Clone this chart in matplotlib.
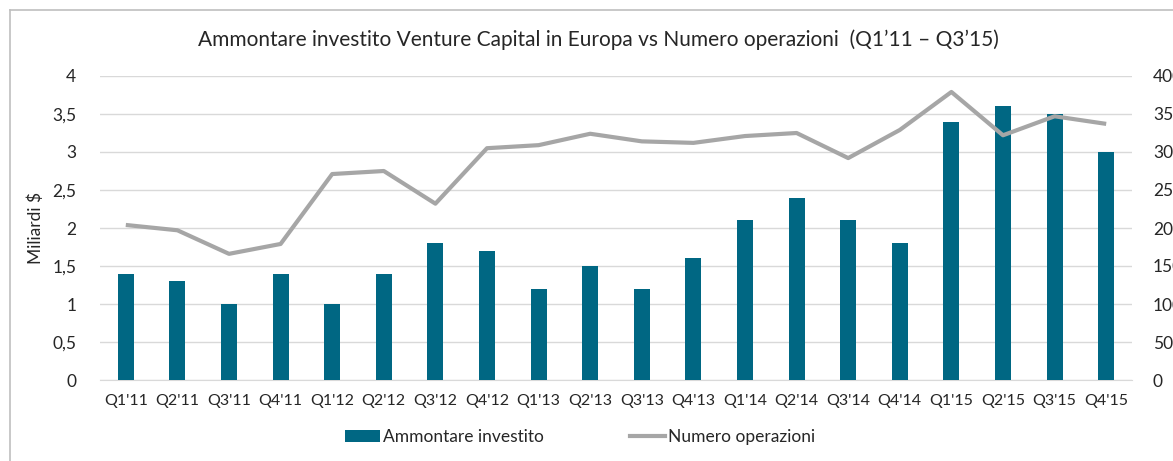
import matplotlib.pyplot as plt
import matplotlib.ticker as mticker
from matplotlib.lines import Line2D
from matplotlib.patches import Patch

plt.rcParams['font.family'] = ['Lato', 'DejaVu Sans']

# Data
quarters = ["Q1'11", "Q2'11", "Q3'11", "Q4'11", "Q1'12", "Q2'12", "Q3'12", "Q4'12",
            "Q1'13", "Q2'13", "Q3'13", "Q4'13", "Q1'14", "Q2'14", "Q3'14", "Q4'14",
            "Q1'15", "Q2'15", "Q3'15", "Q4'15"]
investito = [1.4, 1.3, 1.0, 1.4, 1.0, 1.4, 1.8, 1.7, 1.2, 1.5, 1.2, 1.6,
             2.1, 2.4, 2.1, 1.8, 3.4, 3.6, 3.5, 3.0]
operazioni = [204, 197, 166, 179, 271, 275, 232, 305, 309, 324, 314, 312,
              321, 325, 292, 329, 379, 322, 347, 337]

bar_color = "#006783"
line_color = "#A6A6A6"
text_color = "#262626"

fig = plt.figure(figsize=(11.73, 4.61), dpi=100)
ax = fig.add_axes([100 / 1173, 1 - 380 / 461, 1032 / 1173, 304 / 461])
ax2 = ax.twinx()

x = list(range(len(quarters)))
ax.bar(x, investito, width=0.31, color=bar_color, zorder=3)
ax2.plot(x, operazioni, color=line_color, linewidth=3, zorder=4, solid_capstyle="butt")

ax.set_xlim(-0.5, len(quarters) - 0.5)
ax.set_ylim(0, 4)
ax2.set_ylim(0, 400)
ax.set_yticks([0, 0.5, 1, 1.5, 2, 2.5, 3, 3.5, 4])
ax2.set_yticks(range(0, 401, 50))
ax.yaxis.set_major_formatter(mticker.FuncFormatter(lambda v, p: f"{v:g}".replace(".", ",")))
ax.set_xticks(x)
ax.set_xticklabels(quarters)

ax.grid(axis="y", color="#D9D9D9", linewidth=1, zorder=0)
ax.set_axisbelow(True)
for a in (ax, ax2):
    for s in a.spines.values():
        s.set_visible(False)
ax.spines["bottom"].set_visible(True)
ax.spines["bottom"].set_color("#D9D9D9")
ax.tick_params(axis="y", length=0, labelsize=12.5, colors=text_color, pad=17)
ax.tick_params(axis="x", length=0, labelsize=11.5, colors=text_color, pad=10)
ax2.tick_params(axis="y", length=0, labelsize=12.5, colors=text_color, pad=15)

ax.set_ylabel("Miliardi $", fontsize=12.5, color=text_color, labelpad=6)

fig.text(598 / 1173, 1 - 40 / 461,
         "Ammontare investito Venture Capital in Europa vs Numero operazioni  (Q1\u201911 \u2013 Q3\u201915)",
         ha="center", va="center", fontsize=15, color=text_color)

handles = [Patch(facecolor=bar_color, edgecolor="none"),
           Line2D([0], [0], color=line_color, linewidth=3)]
fig.legend(handles, ["Ammontare investito", "Numero operazioni"],
           loc="center", bbox_to_anchor=(580 / 1173, 1 - 437 / 461), ncol=2,
           frameon=False, fontsize=12.5, handlelength=2.0, columnspacing=5.0,
           handletextpad=0.15, labelcolor=text_color)

# chart area border (cut off at right/bottom like the screenshot)
fig.add_artist(Line2D([10 / 1173, 10 / 1173], [0, 1 - 10 / 461], color="#BFBFBF",
                      linewidth=1.2, transform=fig.transFigure))
fig.add_artist(Line2D([10 / 1173, 1], [1 - 10 / 461, 1 - 10 / 461], color="#BFBFBF",
                      linewidth=1.2, transform=fig.transFigure))

fig.savefig("out.png", dpi=100)
